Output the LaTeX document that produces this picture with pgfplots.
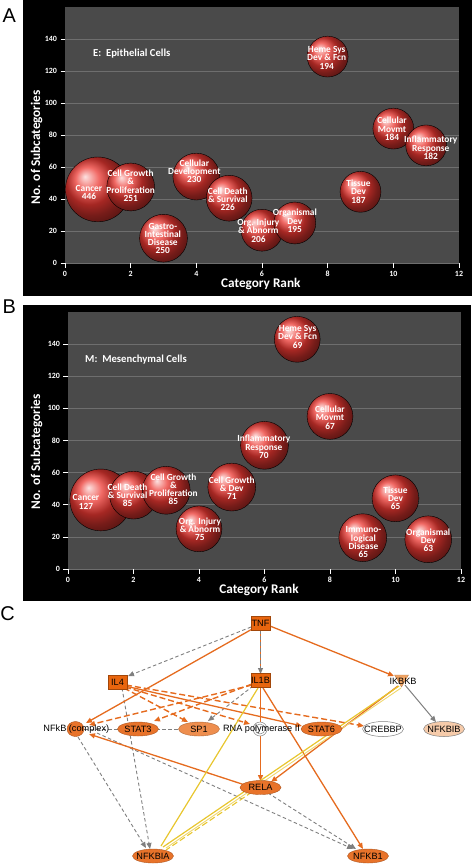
\documentclass[border=0pt]{standalone}
\usepackage{pgfplots}
\pgfplotsset{compat=1.18}
\usepackage{pgfplotstable}
\usetikzlibrary{arrows.meta}
\usepackage{fontspec}
\setmainfont{Carlito}
\newfontfamily\arialf{Liberation Sans}

\definecolor{plotgray}{HTML}{4A4A4A}
\definecolor{gridgray}{HTML}{6E6E6E}
\definecolor{bubred}{RGB}{236,56,50}
\definecolor{orE}{HTML}{E56B1F}
\definecolor{grE}{HTML}{7F7F7F}
\definecolor{yeE}{HTML}{E8C62E}
\definecolor{nodeO}{HTML}{E8732A}
\definecolor{boxO}{HTML}{E8650E}
\definecolor{sp1O}{HTML}{EE8E4E}
\definecolor{ikO}{HTML}{F0A464}
\definecolor{nfbO}{HTML}{F6CBAA}

% Panel A: rank, subcategories, value, bubble radius (px)
\pgfplotstableread{
x y v r
1 46 446 32.5
2 47.5 251 24
3 15.5 250 24
4 54 230 23.5
5 40.5 226 23
6 20.5 206 21
7 25 195 21
8 129 194 20.5
9 44.5 187 20.5
10 84 184 20.5
11 73.5 182 20.5
}\dataA

% Panel B
\pgfplotstableread{
x y v r
1 43 127 31
2 46 85 24
3 49 85 24
4 25 75 23
5 51 71 24
6 77 70 24
7 143 69 23
8 95 67 23
9 19.5 65 24
10 44 65 23.5
11 18.5 63 23.5
}\dataB

\pgfplotsset{
 bub/.style={
  scale only axis, xmin=0, xmax=12, ymin=0, ymax=160,
  xtick={0,2,...,12}, ytick={0,20,...,140},
  axis background/.style={fill=plotgray},
  axis line style={draw=none},
  ymajorgrids, grid style={gridgray, line width=0.7bp},
  tick align=outside, xtick pos=left, ytick pos=left,
  major tick length=4.5bp, tick style={white, line width=0.7bp},
  tick label style={font=\fontsize{8}{9}\selectfont\bfseries, text=white},
  /pgf/number format/assume math mode=true,
  label style={font=\fontsize{13.3}{14}\selectfont\bfseries, text=white},
  clip=false,
 },
 bubplot/.style={scatter, only marks, mark=ball,
  scatter/use mapped color={ball color=bubred},
  visualization depends on={\thisrow{r}\as\rr},
  scatter/@pre marker code/.append style={/tikz/mark size=\rr}},
}
\tikzset{
 bubtxt/.style={align=center, font=\fontsize{9.4}{8.3}\selectfont\bfseries, text=white, inner sep=0pt},
 ttl/.style={anchor=west, font=\fontsize{10.7}{12}\selectfont\bfseries, text=white, inner sep=0pt},
 plet/.style={font=\arialf\fontsize{20}{20}\selectfont, inner sep=0pt},
 ntx/.style={font=\arialf\fontsize{9.2}{10}\selectfont, inner sep=0pt},
 ar/.style={-{Triangle[length=6bp,width=5bp]}},
}

\begin{document}
\begin{tikzpicture}[x=1bp,y=1bp]
\useasboundingbox (0,0) rectangle (472,-864);
\fill[black] (23,0) rectangle (472,-296);
\fill[black] (23,-305) rectangle (471,-601);
\node[plet] at (9.3,-15.3) {A};
\node[plet] at (9.2,-306.7) {B};
\node[plet] at (7.5,-613.8) {C};

% ---------------- Panel A
\begin{axis}[bub, at={(65bp,-263bp)}, anchor=south west, width=394bp, height=256bp,
  xlabel={Category Rank}, ylabel={No. of Subcategories},
  xlabel style={at={(axis description cs:0.497,-0.082)}, anchor=center},
  ylabel style={at={(axis description cs:-0.072,0.452)}, anchor=center}]
\addplot[bubplot] table[x=x,y=y] {\dataA};
\coordinate (at) at (axis cs:0.85,130.6);
\coordinate (a1) at (axis cs:0.73,44.1);
\coordinate (a2) at (axis cs:2.0,48.25);
\coordinate (a3) at (axis cs:2.98,15.4);
\coordinate (a4) at (axis cs:3.94,57.3);
\coordinate (a5) at (axis cs:4.96,39.8);
\coordinate (a6) at (axis cs:5.89,20.2);
\coordinate (a7) at (axis cs:7.0,26.4);
\coordinate (a8) at (axis cs:7.97,128.3);
\coordinate (a9) at (axis cs:8.94,44.6);
\coordinate (a10) at (axis cs:9.96,83.75);
\coordinate (a11) at (axis cs:11.14,71.9);
\end{axis}
\node[ttl] at (at) {E:\ \ Epithelial Cells};
\node[bubtxt] at (a1) {Cancer\\446};
\node[bubtxt] at (a2) {Cell Growth\\\&\\Proliferation\\251};
\node[bubtxt] at (a3) {Gastro-\\Intestinal\\Disease\\250};
\node[bubtxt] at (a4) {Cellular\\Development\\230};
\node[bubtxt] at (a5) {Cell Death\\\& Survival\\226};
\node[bubtxt] at (a6) {Org. Injury\\\& Abnorm\\206};
\node[bubtxt] at (a7) {Organismal\\Dev\\195};
\node[bubtxt] at (a8) {Heme Sys\\Dev \& Fcn\\194};
\node[bubtxt] at (a9) {Tissue\\Dev\\187};
\node[bubtxt] at (a10) {Cellular\\Movmt\\184};
\node[bubtxt] at (a11) {Inflammatory\\Response\\182};

% ---------------- Panel B
\begin{axis}[bub, at={(68bp,-569bp)}, anchor=south west, width=393bp, height=257bp,
  xlabel={Category Rank}, ylabel={No. of Subcategories},
  xlabel style={at={(axis description cs:0.486,-0.082)}, anchor=center},
  ylabel style={at={(axis description cs:-0.08,0.456)}, anchor=center}]
\addplot[bubplot] table[x=x,y=y] {\dataB};
\coordinate (bt) at (axis cs:0.52,130.5);
\coordinate (b1) at (axis cs:0.55,41.8);
\coordinate (b2) at (axis cs:1.82,46.0);
\coordinate (b3) at (axis cs:3.22,49.7);
\coordinate (b4) at (axis cs:4.03,24.9);
\coordinate (b5) at (axis cs:5.0,50.2);
\coordinate (b6) at (axis cs:5.98,76.1);
\coordinate (b7) at (axis cs:7.01,144.6);
\coordinate (b8) at (axis cs:8.0,94.2);
\coordinate (b9) at (axis cs:10.0,44.0);
\coordinate (b10) at (axis cs:9.02,16.7);
\coordinate (b11) at (axis cs:11.0,18.0);
\end{axis}
\node[ttl] at (bt) {M:\ \ Mesenchymal Cells};
\node[bubtxt] at (b1) {Cancer\\127};
\node[bubtxt] at (b2) {Cell Death\\\& Survival\\85};
\node[bubtxt] at (b3) {Cell Growth\\\&\\Proliferation\\85};
\node[bubtxt] at (b4) {Org. Injury\\\& Abnorm\\75};
\node[bubtxt] at (b5) {Cell Growth\\\& Dev\\71};
\node[bubtxt] at (b6) {Inflammatory\\Response\\70};
\node[bubtxt] at (b7) {Heme Sys\\Dev \& Fcn\\69};
\node[bubtxt] at (b8) {Cellular\\Movmt\\67};
\node[bubtxt] at (b9) {Tissue\\Dev\\65};
\node[bubtxt] at (b10) {Immuno-\\logical\\Disease\\65};
\node[bubtxt] at (b11) {Organismal\\Dev\\63};

% ---------------- Panel C network
\begin{axis}[at={(0,-600bp)}, anchor=north west, scale only axis, width=472bp, height=264bp,
  xmin=0, xmax=472, ymin=600, ymax=864, y dir=reverse, hide axis, clip=false]
% edges: gray dashed
\addplot[grE, line width=0.9bp, dash pattern=on 3.5bp off 2.5bp] coordinates {(84,729) (180,729)};
\addplot[grE, line width=0.9bp, dash pattern=on 3.5bp off 2.5bp, ar] coordinates {(251,627) (128,676)};
\addplot[grE, line width=0.9bp, dash pattern=on 3.5bp off 2.5bp, ar] coordinates {(122,688) (150,849)};
\addplot[grE, line width=0.9bp, dash pattern=on 3.5bp off 2.5bp, ar] coordinates {(253,686) (208,721)};
\addplot[grE, line width=0.9bp, dash pattern=on 3.5bp off 2.5bp, ar] coordinates {(78,737) (146,848)};
\addplot[grE, line width=0.9bp, dash pattern=on 3.5bp off 2.5bp, ar] coordinates {(97,733) (353,849)};
\addplot[grE, line width=0.9bp, dash pattern=on 3.5bp off 2.5bp, ar] coordinates {(268,793) (356,849)};
\addplot[grE, line width=1bp, ar] coordinates {(405,685) (436,722)};
% orange solid
\addplot[orE, line width=1.3bp, ar] coordinates {(254,628) (86,723)};
\addplot[orE, line width=1.3bp] coordinates {(260.5,630) (260.5,673)};
\addplot[grE, line width=0.9bp, dash pattern=on 3.5bp off 2.5bp, ar] coordinates {(260.5,630) (260.5,674)};
\addplot[orE, line width=1.3bp, ar] coordinates {(270,626) (394,676)};
\addplot[orE, line width=1.3bp, ar] coordinates {(125,686) (302,726)};
\addplot[orE, line width=1.3bp, ar] coordinates {(260.5,688) (260.5,781)};
\addplot[orE, line width=1.3bp, ar] coordinates {(263,688) (363,849)};
\addplot[orE, line width=1.3bp, ar] coordinates {(398,686) (271,782)};
\addplot[orE, line width=1.3bp, ar] coordinates {(245,785) (89,734)};
% orange dashed
\addplot[orE, line width=1.4bp, dash pattern=on 6bp off 3bp, ar] coordinates {(124,688) (188,722)};
\addplot[orE, line width=1.4bp, dash pattern=on 6bp off 3bp, ar] coordinates {(125,687) (250,724)};
\addplot[orE, line width=1.4bp, dash pattern=on 6bp off 3bp, ar] coordinates {(126,685) (364,726)};
\addplot[orE, line width=1.4bp, dash pattern=on 6bp off 3bp, ar] coordinates {(252,685) (89,725)};
\addplot[orE, line width=1.4bp, dash pattern=on 6bp off 3bp, ar] coordinates {(252,684) (154,721)};
% yellow
\addplot[yeE, line width=1.2bp] coordinates {(258,688) (161,846)};
\addplot[yeE, line width=1.2bp] coordinates {(399,686) (163,847)};
\addplot[yeE!70!white, line width=0.9bp] coordinates {(401,688) (166,848)};
\addplot[yeE, line width=1.1bp, dash pattern=on 6bp off 3bp] coordinates {(252,792) (166,850)};
% nodes
\addplot[only marks, mark=square*, mark size=7bp, mark options={xscale=1.36, fill=boxO, draw=boxO!70!black, line width=0.4bp}]
  coordinates {(260.5,623) (117.5,682) (260.5,680.5)};
\addplot[only marks, mark=*, mark size=7bp, mark options={xscale=2.93, fill=nodeO, draw=nodeO!75!black, line width=0.4bp}]
  coordinates {(138,729) (321.5,729) (260.5,787.5) (153,856) (368,856)};
\addplot[only marks, mark=*, mark size=7.5bp, mark options={xscale=1.13, fill=nodeO, draw=nodeO!75!black, line width=0.4bp}]
  coordinates {(75.5,729)};
\addplot[only marks, mark=*, mark size=7bp, mark options={xscale=2.93, fill=sp1O, draw=sp1O!75!black, line width=0.4bp}]
  coordinates {(199,729)};
\addplot[only marks, mark=*, mark size=7.5bp, mark options={xscale=2.73, fill=white, draw=grE, line width=0.5bp}]
  coordinates {(383,729)};
\addplot[only marks, mark=*, mark size=7.5bp, mark options={xscale=2.73, fill=nfbO, draw=grE, line width=0.5bp}]
  coordinates {(444,729)};
\addplot[only marks, mark=*, mark size=7bp, mark options={fill=white, draw=grE, line width=0.5bp}]
  coordinates {(260,729)};
\addplot[only marks, mark=o, mark size=5bp, mark options={draw=grE, line width=0.5bp}]
  coordinates {(260,729)};
\addplot[only marks, mark=triangle*, mark size=8bp, mark options={rotate=180, fill=ikO, draw=ikO!80!black, line width=0.4bp}]
  coordinates {(401.5,679)};
\coordinate (cTNF) at (axis cs:260.5,623);
\coordinate (cIL4) at (axis cs:117.5,682);
\coordinate (cIL1B) at (axis cs:260.5,680.5);
\coordinate (cIKBKB) at (axis cs:403,681);
\coordinate (cNFkB) at (axis cs:76.3,729);
\coordinate (cSTAT3) at (axis cs:138,729);
\coordinate (cSP1) at (axis cs:199,729);
\coordinate (cRNA) at (axis cs:261.5,729);
\coordinate (cSTAT6) at (axis cs:321.5,729);
\coordinate (cCREBBP) at (axis cs:383,729);
\coordinate (cNFKBIB) at (axis cs:444,729);
\coordinate (cRELA) at (axis cs:260.5,787.5);
\coordinate (cNFKBIA) at (axis cs:153,856);
\coordinate (cNFKB1) at (axis cs:368,856);
\end{axis}
\node[ntx] at (cTNF) {TNF};
\node[ntx] at (cIL4) {IL4};
\node[ntx] at (cIL1B) {IL1B};
\node[ntx] at (cIKBKB) {IKBKB};
\node[ntx] at (cNFkB) {NFkB (complex)};
\node[ntx] at (cSTAT3) {STAT3};
\node[ntx] at (cSP1) {SP1};
\node[ntx] at (cRNA) {RNA polymerase II};
\node[ntx] at (cSTAT6) {STAT6};
\node[ntx] at (cCREBBP) {CREBBP};
\node[ntx] at (cNFKBIB) {NFKBIB};
\node[ntx] at (cRELA) {RELA};
\node[ntx] at (cNFKBIA) {NFKBIA};
\node[ntx] at (cNFKB1) {NFKB1};
\end{tikzpicture}
\end{document}
